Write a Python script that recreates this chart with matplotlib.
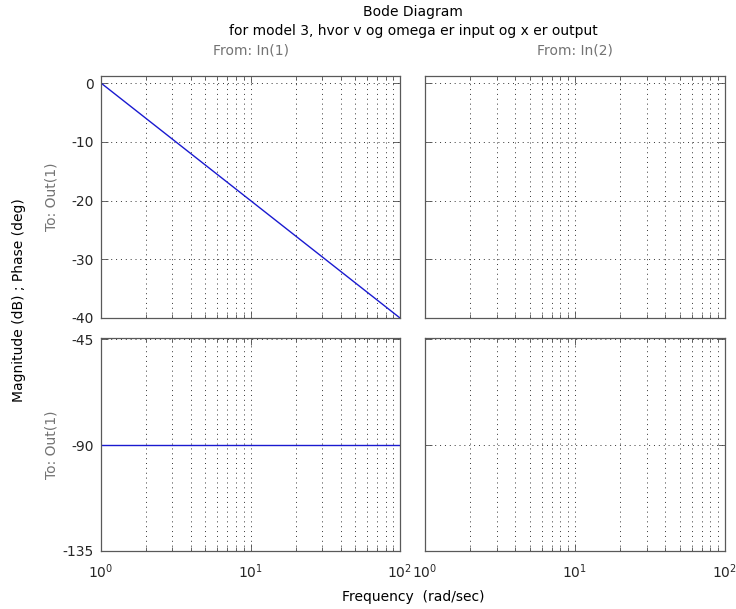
import numpy as np
import matplotlib
matplotlib.use("Agg")
import matplotlib.pyplot as plt
from matplotlib.ticker import LogLocator, NullFormatter

# data (integrator 1/s on input 1, nothing on input 2)
freq = [1.0, 100.0]
mag_db = [0.0, -40.0]
phase_deg = [-90.0, -90.0]

mag_ticks = [0, -10, -20, -30, -40]
phase_ticks = [-45, -90, -135]
mag_lim = (-40, 1.2)
phase_lim = (-135, -44.4)
freq_lim = (1, 100)

plt.rcParams['font.family'] = ['DejaVu Sans']
plt.rcParams['font.size'] = 10
plt.rcParams['axes.unicode_minus'] = False

W, H = 736, 609
fig = plt.figure(figsize=(W / 100, H / 100), dpi=100)


def px_axes(x0, y0, x1, y1):
    # pixel box (top-left origin) -> figure fraction
    return fig.add_axes([x0 / W, 1 - y1 / H, (x1 - x0) / W, (y1 - y0) / H])


cols = [(101, 400), (425, 725)]
rows = [(76, 318), (338, 551)]

grid_kw = dict(color='0.2', linestyle=(0, (1, 4)), linewidth=0.7)

axes = {}
for r, (y0, y1) in enumerate(rows):
    for c, (x0, x1) in enumerate(cols):
        ax = px_axes(x0, y0, x1, y1)
        ax.set_xscale('log')
        ax.set_xlim(*freq_lim)
        ax.xaxis.set_major_locator(LogLocator(base=10, numticks=10))
        ax.xaxis.set_minor_locator(LogLocator(base=10, subs=np.arange(2, 10), numticks=10))
        ax.xaxis.set_minor_formatter(NullFormatter())
        if r == 0:
            ax.set_ylim(*mag_lim)
            ax.set_yticks(mag_ticks)
        else:
            ax.set_ylim(*phase_lim)
            ax.set_yticks(phase_ticks)
        ax.grid(True, which='major', **grid_kw)
        ax.grid(True, which='minor', axis='x', **grid_kw)
        ax.tick_params(which='both', direction='in', top=True, right=True,
                       colors='0.3', labelcolor='0.15', width=0.6)
        ax.tick_params(which='major', length=5)
        ax.tick_params(which='minor', length=3)
        ax.tick_params(axis='y', pad=5)
        ax.tick_params(axis='x', pad=8)
        for s in ax.spines.values():
            s.set_color('0.35')
            s.set_linewidth(0.9)
        if r == 0:
            ax.tick_params(labelbottom=False)
        if c == 1:
            ax.tick_params(labelleft=False)
        axes[(r, c)] = ax

axes[(0, 0)].plot(freq, mag_db, color='#1a1ad0', linewidth=1.0)
axes[(1, 0)].plot(freq, phase_deg, color='#1a1ad0', linewidth=1.0)

# titles and labels
fig.text(413 / W, 1 - 12 / H, 'Bode Diagram', ha='center', va='center')
fig.text(413 / W, 1 - 31 / H, 'for model 3, hvor v og omega er input og x er output',
         ha='center', va='center')
fig.text(250.5 / W, 1 - 51 / H, 'From: In(1)', ha='center', va='center', color='0.45')
fig.text(575 / W, 1 - 51 / H, 'From: In(2)', ha='center', va='center', color='0.45')
fig.text(52 / W, 1 - 197 / H, 'To: Out(1)', ha='center', va='center', rotation=90, color='0.45')
fig.text(52 / W, 1 - 444.5 / H, 'To: Out(1)', ha='center', va='center', rotation=90, color='0.45')
fig.text(19 / W, 1 - 300 / H, 'Magnitude (dB) ; Phase (deg)', ha='center', va='center',
         rotation=90)
fig.text(413 / W, 1 - 597 / H, 'Frequency  (rad/sec)', ha='center', va='center')

fig.savefig('out.png', dpi=100)
